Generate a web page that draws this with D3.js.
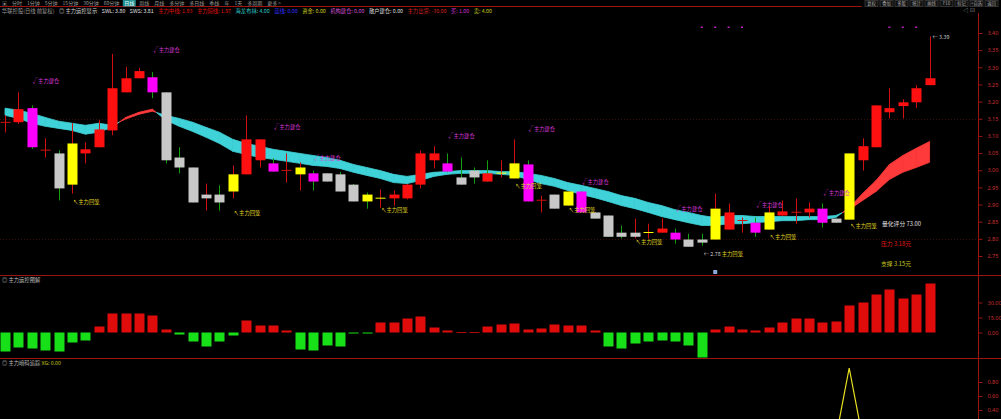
<!DOCTYPE html>
<html>
<head>
<meta charset="utf-8">
<script src="https://cdn.jsdelivr.net/npm/d3@7"></script>
<style>
html, body { margin: 0; padding: 0; background: #000; overflow: hidden; }
svg { display: block; font-family: "Noto Sans CJK SC", "Noto Sans", sans-serif; }
</style>
</head>
<body>
<svg id="chart" width="1001" height="419"></svg>
<script>
//Candles (price in yuan), tone: r red, g grey, y yellow, m magenta
var candleOpen  = [3.140,3.140,3.181,3.058,3.049,2.958,3.049,3.067,3.116,3.227,3.268,3.271,3.227,3.037,3.008,2.918,2.929,2.938,2.988,3.029,
                   3.020,2.999,2.988,2.991,2.991,2.988,2.958,2.929,2.918,2.918,2.918,2.958,3.029,3.020,2.979,2.999,2.991,2.991,2.976,3.017,
                   2.912,2.929,2.897,2.938,2.877,2.868,2.818,2.806,2.818,2.818,2.818,2.798,2.798,2.798,2.827,2.853,2.847,2.827,2.868,2.877,
                   2.877,2.888,2.859,2.856,3.029,3.067,3.169,3.187,3.198,3.248];
var candleHigh  = [3.160,3.227,3.189,3.093,3.058,3.137,3.081,3.146,3.339,3.301,3.298,3.286,3.227,3.067,3.008,2.961,2.956,3.014,3.160,3.090,
                   3.035,3.049,3.023,2.999,2.991,2.995,2.960,2.935,2.944,2.941,2.960,3.058,3.070,3.049,3.037,3.008,3.029,3.029,3.090,3.029,
                   2.926,2.929,2.938,2.938,2.877,2.868,2.839,2.859,2.844,2.859,2.830,2.815,2.815,2.932,2.903,2.862,2.862,2.897,2.912,2.918,
                   2.906,2.903,2.859,3.049,3.093,3.189,3.239,3.207,3.248,3.390];
var candleLow   = [3.110,3.135,3.062,3.037,2.912,2.932,3.020,3.067,3.102,3.227,3.268,3.210,3.020,2.991,2.906,2.882,2.882,2.918,2.988,3.008,
                   2.996,2.964,2.941,2.941,2.967,2.938,2.909,2.888,2.891,2.897,2.915,2.947,3.005,2.994,2.958,2.961,2.967,2.979,2.976,2.909,
                   2.877,2.888,2.897,2.877,2.859,2.806,2.801,2.801,2.801,2.818,2.786,2.777,2.780,2.798,2.827,2.818,2.806,2.827,2.868,2.844,
                   2.862,2.833,2.847,2.856,2.999,3.067,3.151,3.151,3.181,3.248];
var candleClose = [3.141,3.178,3.067,3.060,2.947,3.078,3.061,3.119,3.239,3.268,3.289,3.227,3.029,3.008,2.906,2.929,2.906,2.988,3.090,3.090,
                   2.996,3.001,3.008,2.967,2.967,2.938,2.909,2.909,2.920,2.929,2.958,3.049,3.049,2.996,2.958,2.979,2.967,2.993,3.020,2.909,
                   2.914,2.888,2.938,2.877,2.859,2.806,2.806,2.818,2.820,2.830,2.798,2.777,2.789,2.888,2.877,2.855,2.818,2.877,2.880,2.879,
                   2.888,2.847,2.847,3.049,3.070,3.189,3.181,3.198,3.239,3.268];
var candleTone  = "rrmrgyrrrrrmgggggyrrmrymgggyyrrrrmggryymrgymggggyrmggyrrmyrrrmgyrrrrrr";

//Moving-average ribbon
var maFast = [3.160,3.151,3.137,3.128,3.122,3.116,3.105,3.111,3.125,3.154,3.169,3.178,3.146,3.128,3.113,3.096,3.078,3.055,3.046,3.037,
              3.032,3.026,3.020,3.014,3.011,3.005,2.994,2.985,2.976,2.964,2.961,2.970,2.982,2.988,2.991,2.991,2.991,2.988,2.985,2.973,
              2.961,2.953,2.941,2.929,2.920,2.909,2.897,2.888,2.877,2.865,2.856,2.847,2.839,2.839,2.844,2.844,2.847,2.850,2.853,2.853,
              2.856,2.856,2.862,2.891,2.932,2.970,3.017,3.043,3.064,3.084];
var maSlow = [3.181,3.175,3.166,3.154,3.143,3.137,3.131,3.137,3.131,3.149,3.163,3.172,3.160,3.151,3.140,3.125,3.111,3.090,3.078,3.070,
              3.061,3.055,3.049,3.043,3.037,3.029,3.017,3.008,2.999,2.988,2.982,2.988,2.994,2.996,2.999,2.999,2.999,2.996,2.996,2.991,
              2.985,2.976,2.964,2.956,2.947,2.938,2.926,2.918,2.906,2.897,2.885,2.877,2.868,2.862,2.868,2.868,2.865,2.865,2.865,2.865,
              2.865,2.865,2.868,2.885,2.912,2.938,2.973,2.994,3.008,3.023];

//Signal labels
var buyIdx = [2, 11, 20, 23, 33, 39, 43, 50, 56, 61];
var buyAt  = [3.260, 3.350, 3.125, 3.037, 3.099, 3.119, 2.967, 2.888, 2.900, 2.935];
var backIdx = [5, 17, 28, 38, 42, 47, 52, 57, 63];
var backAt  = [2.906, 2.874, 2.885, 2.953, 2.885, 2.792, 2.757, 2.806, 2.836];
var dotIdx = [52, 53, 54, 55, 66, 67, 68];

//Sub panels
var flowValues = [-19,-15,-16,-18,-19,-10,-8,6,19,19,19,17,3,-2,-9,-14,-9,-3,12,7,
                  7,2,-17,-18,-13,-14,-1,-1,10,10,14,16,5,2,0.3,0.3,6,8,9,3,
                  4,8,7,7,2,-14,-16,-11,-9,-8,-9,-13,-25,3,6,3,2,5,10,14,
                  14,10,11,27,30,38,43,34,38,49];
var xgValues = [0,0,0,0,0,0,0,0,0,0,0,0,0,0,0,0,0,0,0,0,
                0,0,0,0,0,0,0,0,0,0,0,0,0,0,0,0,0,0,0,0,
                0,0,0,0,0,0,0,0,0,0,0,0,0,0,0,0,0,0,0,0,
                0,0,0,1,0,0,0,0,0,0];

var priceTicks = [3.40,3.35,3.30,3.25,3.20,3.15,3.10,3.05,3.00,2.95,2.90,2.85,2.80,2.75];
var flowTicks = [30, 15, 0];
var xgTicks = [0.8, 0.6, 0.4];

var toolbarItems = ["▣","分时","1分钟","5分钟","15分钟","30分钟","60分钟","日线","周线","月线","多分钟","多日线","季线","年","1天","多周期","更多 >"];
var rightButtons = ["复权","叠加","多股","统计","画线","F10","标记","+自选","返回"];
var legendItems = [["华联控股(日线 前复权)","#9a9a9a"],["◎ 主力运控显示","#cfcfcf"],["SWL: 3.80","#e0e0e0"],["SWS: 3.81","#e0e0e0"],
                   ["主力中线: 1.93","#e01010"],["主力短线: 1.97","#e01010"],["海龙布林: 4.00","#30c8c8"],["蓝线: 0.00","#3030ff"],
                   ["资金: 0.00","#c8c820"],["机构建仓: 0.00","#d050d0"],["散户建仓: 0.00","#dddddd"],["主力出货: -30.00","#d02020"],
                   ["买: 1.00","#d030d0"],["卖: 4.00","#c8c820"]];

var W = 1001, H = 419;
var axisX = 978;
var lineRed = "#9a1414";
var svg = d3.select("#chart");

var x = d3.scaleLinear().domain([0, 69]).range([5, 929.6]);
var y = d3.scaleLinear().domain([2.75, 3.40]).range([256, 33]);
var yFlow = d3.scaleLinear().domain([0, 30]).range([332.5, 302.5]);
var yXg = d3.scaleLinear().domain([0, 1]).range([438, 368]);

var toneColor = {r: "#ff1010", g: "#c8c8c8", y: "#ffff00", m: "#ff00ff"};

//Clip areas
var defs = svg.append("defs");
defs.append("clipPath").attr("id","clipMain").append("rect").attr("x",0).attr("y",14).attr("width",axisX).attr("height",261);
defs.append("clipPath").attr("id","clipFlow").append("rect").attr("x",0).attr("y",276).attr("width",axisX).attr("height",82);
defs.append("clipPath").attr("id","clipXg").append("rect").attr("x",0).attr("y",360).attr("width",axisX).attr("height",60);

//Frame lines
svg.append("line").attr("x1",0).attr("x2",862).attr("y1",6.5).attr("y2",6.5).attr("stroke",lineRed);
svg.append("line").attr("x1",axisX + 0.5).attr("x2",axisX + 0.5).attr("y1",13).attr("y2",H).attr("stroke",lineRed);
svg.append("line").attr("x1",0).attr("x2",W).attr("y1",275.5).attr("y2",275.5).attr("stroke",lineRed);
svg.append("line").attr("x1",0).attr("x2",W).attr("y1",358.5).attr("y2",358.5).attr("stroke",lineRed);

//Faint grid
[3.15, 2.80].forEach(function(p) {
    svg.append("line").attr("x1",0).attr("x2",axisX).attr("y1",Math.round(y(p)) + 0.5).attr("y2",Math.round(y(p)) + 0.5)
        .attr("stroke","#3a0c0c").attr("stroke-dasharray","1,2");
});

//Toolbar
var tb = svg.append("g").attr("font-size",5).attr("fill","#9a9a9a");
var tx = 2;
toolbarItems.forEach(function(t, i) {
    var node = tb.append("text").attr("x",tx).attr("y",5).text(t);
    var w = node.node().getComputedTextLength();
    if (t == "日线") {
        tb.insert("rect","text").attr("x",tx - 1.5).attr("y",0).attr("width",w + 3).attr("height",6.5).attr("fill","#1e8c8c");
        node.attr("fill","#e8ffff");
    }
    tx += w + 5;
});

var bx = 865;
rightButtons.forEach(function(t) {
    var g = svg.append("g");
    g.append("rect").attr("x",bx).attr("y",0.5).attr("width",13).attr("height",6).attr("fill","#111").attr("stroke","#333");
    g.append("text").attr("x",bx + 6.5).attr("y",5).attr("text-anchor","middle")
        .attr("font-size",4.3).attr("fill","#aaaaaa").text(t);
    bx += 15;
});
svg.append("text").attr("x",963).attr("y",12).attr("font-size",5.5).attr("fill","#999").text("◁ ⊡");

//Legend row
var lx = 2;
legendItems.forEach(function(d) {
    var node = svg.append("text").attr("x",lx).attr("y",12.5).attr("font-size",5.3).attr("fill",d[1]).text(d[0]);
    lx += node.node().getComputedTextLength() + 4.5;
});

//Ribbon
var main = svg.append("g").attr("clip-path","url(#clipMain)");
var segs = [];
for (var i = 0; i < maFast.length - 1; i++) {
    var d0 = maFast[i] - maSlow[i], d1 = maFast[i + 1] - maSlow[i + 1];
    if (d0 * d1 < 0) {
        var t = d0 / (d0 - d1);
        var xm = i + t, ym = maFast[i] + t * (maFast[i + 1] - maFast[i]);
        segs.push({up: d0 > 0, pts: [[i, maFast[i]], [xm, ym], [i, maSlow[i]]]});
        segs.push({up: d1 > 0, pts: [[xm, ym], [i + 1, maFast[i + 1]], [i + 1, maSlow[i + 1]]]});
    } else {
        segs.push({up: (d0 + d1) > 0, pts: [[i, maFast[i]], [i + 1, maFast[i + 1]], [i + 1, maSlow[i + 1]], [i, maSlow[i]]]});
    }
}
main.selectAll("polygon.band")
    .data(segs)
    .enter()
    .append("polygon")
    .attr("points",function(d) {
        return d.pts.map(function(p) { return x(p[0]) + "," + y(p[1]); }).join(" ");
    })
    .attr("fill",function(d) { return d.up ? "#ff3a3a" : "#3fd2d8"; })
    .attr("stroke",function(d) { return d.up ? "#ff3a3a" : "#3fd2d8"; })
    .attr("stroke-width",0.8)
    .attr("stroke-linejoin","round");

//Candles
var idx = d3.range(candleOpen.length);
main.selectAll("line.wick")
    .data(idx)
    .enter()
    .append("line")
    .attr("x1",function(i) { return Math.round(x(i)) + 0.5; })
    .attr("x2",function(i) { return Math.round(x(i)) + 0.5; })
    .attr("y1",function(i) { return y(candleHigh[i]); })
    .attr("y2",function(i) { return y(candleLow[i]); })
    .attr("stroke",function(i) { return candleClose[i] >= candleOpen[i] ? "#d01010" : "#10a010"; })
    .attr("stroke-width",1);

main.selectAll("rect.body")
    .data(idx)
    .enter()
    .append("rect")
    .attr("x",function(i) { return Math.round(x(i)) - 4.5; })
    .attr("width",10)
    .attr("y",function(i) { return y(Math.max(candleOpen[i], candleClose[i])); })
    .attr("height",function(i) { return Math.max(1, Math.abs(y(candleOpen[i]) - y(candleClose[i]))); })
    .attr("fill",function(i) {
        var c = candleTone[i];
        if (c == "r" && Math.abs(candleOpen[i] - candleClose[i]) < 0.004) return "#d01010";
        return toneColor[c];
    });

//Signal labels
main.selectAll("text.buy")
    .data(buyIdx)
    .enter()
    .append("text")
    .attr("x",function(i) { return x(i) + 1; })
    .attr("y",function(i, j) { return y(buyAt[j]) + 2; })
    .attr("font-size",5.3)
    .attr("fill","#d838d8")
    .text("√主力建仓");

main.selectAll("text.back")
    .data(backIdx)
    .enter()
    .append("text")
    .attr("x",function(i) { return x(i) + 1; })
    .attr("y",function(i, j) { return y(backAt[j]) + 2; })
    .attr("font-size",5.3)
    .attr("fill","#e0d820")
    .text(function(i) { return i == 52 ? "" : "↖主力回笼"; });

var lowIdx = 52;
var lowLabel = main.append("text")
    .attr("x",x(lowIdx) + 2)
    .attr("y",y(backAt[backIdx.indexOf(lowIdx)]) + 2)
    .attr("font-size",5.3);
lowLabel.append("tspan").attr("fill","#cfcfcf").text("← " + d3.format(".2f")(2.78) + " ");
lowLabel.append("tspan").attr("fill","#e0d820").text("主力回笼");

main.append("text")
    .attr("x",x(69) + 3)
    .attr("y",y(candleHigh[69]) + 3)
    .attr("font-size",5.3)
    .attr("fill","#cfcfcf")
    .text("← " + d3.format(".2f")(candleHigh[69]));

main.selectAll("rect.dot")
    .data(dotIdx)
    .enter()
    .append("rect")
    .attr("x",function(i) { return x(i) - 1; })
    .attr("y",26.5)
    .attr("width",2)
    .attr("height",1.5)
    .attr("fill","#c020c0");

//Info block
main.append("text").attr("x",882).attr("y",226).attr("font-size",5.8).attr("fill","#e0e0e0").text("量化评分 73.00");
main.append("text").attr("x",881).attr("y",246).attr("font-size",5.8).attr("fill","#e01818").text("压力 3.18元");
main.append("text").attr("x",881).attr("y",266).attr("font-size",5.8).attr("fill","#c8c820").text("支撑 3.15元");
svg.append("rect").attr("x",x(53) - 2).attr("y",270).attr("width",4).attr("height",4).attr("fill","#8aa8d8");

//Price axis
var pAxis = svg.append("g")
    .attr("transform","translate(" + (axisX + 0.5) + ",0)")
    .call(d3.axisRight(y).tickValues(priceTicks).tickFormat(d3.format(".2f")).tickSize(4).tickPadding(5));
pAxis.select(".domain").remove();
pAxis.selectAll("line").attr("stroke",lineRed);
pAxis.selectAll("text").attr("fill","#c83030").attr("font-size",5.5).attr("font-family","Noto Sans, sans-serif");

//Money flow panel
svg.append("text").attr("x",2).attr("y",282).attr("font-size",5.3).attr("fill","#bdbdbd").text("◎ 主力运控图解");
var flow = svg.append("g").attr("clip-path","url(#clipFlow)");
flow.selectAll("rect")
    .data(flowValues)
    .enter()
    .append("rect")
    .attr("x",function(v, i) { return Math.round(x(i)) - 4.5; })
    .attr("width",10)
    .attr("y",function(v) { return Math.min(yFlow(v), yFlow(0)); })
    .attr("height",function(v) { return Math.max(0.8, Math.abs(yFlow(v) - yFlow(0))); })
    .attr("fill",function(v) { return v >= 0 ? "#e00c0c" : "#18e018"; });

var fAxis = svg.append("g")
    .attr("transform","translate(" + (axisX + 0.5) + ",0)")
    .call(d3.axisRight(yFlow).tickValues(flowTicks).tickFormat(d3.format(".2f")).tickSize(4).tickPadding(5));
fAxis.select(".domain").remove();
fAxis.selectAll("line").attr("stroke",lineRed);
fAxis.selectAll("text").attr("fill","#c83030").attr("font-size",5.5).attr("font-family","Noto Sans, sans-serif");

//Signal panel
var xgTitle = svg.append("text").attr("x",2).attr("y",365).attr("font-size",5.3);
xgTitle.append("tspan").attr("fill","#bdbdbd").text("◎ 主力暗码追踪 ");
xgTitle.append("tspan").attr("fill","#c8c820").text("XG: 0.00");
var xg = svg.append("g").attr("clip-path","url(#clipXg)");
xg.append("path")
    .datum(xgValues)
    .attr("d",d3.line().x(function(v, i) { return x(i); }).y(function(v) { return yXg(v); }))
    .attr("fill","none")
    .attr("stroke","#e8e020")
    .attr("stroke-width",1.2);

var xAxisG = svg.append("g")
    .attr("transform","translate(" + (axisX + 0.5) + ",0)")
    .call(d3.axisRight(yXg).tickValues(xgTicks).tickFormat(d3.format(".2f")).tickSize(4).tickPadding(5));
xAxisG.select(".domain").remove();
xAxisG.selectAll("line").attr("stroke",lineRed);
xAxisG.selectAll("text").attr("fill","#c83030").attr("font-size",5.5).attr("font-family","Noto Sans, sans-serif");
</script>
</body>
</html>
